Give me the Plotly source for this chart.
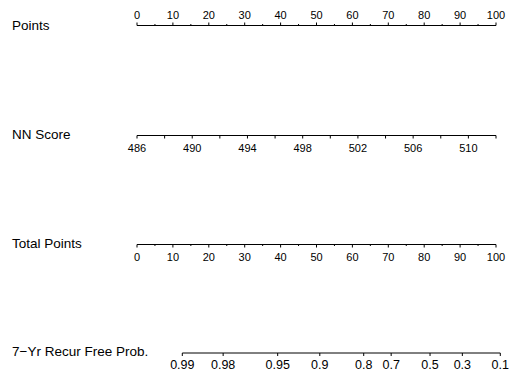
import math
import plotly.graph_objects as go

# ---- data ----
points_major = [0, 10, 20, 30, 40, 50, 60, 70, 80, 90, 100]
points_minor = [5, 15, 25, 35, 45, 55, 65, 75, 85, 95]
nn_ticks = [486, 488, 490, 492, 494, 496, 498, 500, 502, 504, 506, 508, 510, 512]
nn_labels = [486, 490, 494, 498, 502, 506, 510]
total_major = [0, 10, 20, 30, 40, 50, 60, 70, 80, 90, 100]
total_minor = [5, 15, 25, 35, 45, 55, 65, 75, 85, 95]
prob_ticks = [0.99, 0.98, 0.95, 0.9, 0.8, 0.7, 0.5, 0.3, 0.1]
prob_labels = ["0.99", "0.98", "0.95", "0.9", "0.8", "0.7", "0.5", "0.3", "0.1"]
row_names = ["Points", "NN Score", "Total Points", "7\u2212Yr Recur Free Prob."]

# nomogram scales (to the common points axis)
NN_MIN, NN_MAX = 486, 512
def nn_to_pts(v):
    return (v - NN_MIN) / (NN_MAX - NN_MIN) * 100.0

CLL_A, CLL_B = 87.6, 16.3
def prob_to_pts(p):
    return CLL_A + CLL_B * math.log(-math.log(p))

FONT = "Liberation Sans, Arial, Helvetica, sans-serif"
fig = go.Figure()

def add_segments(xs, y0, y1):
    X, Y = [], []
    for x in xs:
        X += [x, x, None]
        Y += [y0, y1, None]
    fig.add_trace(go.Scatter(x=X, y=Y, mode="lines", line=dict(color="black", width=1),
                             hoverinfo="skip", showlegend=False))

def add_line(x0, x1, y):
    fig.add_trace(go.Scatter(x=[x0, x1], y=[y, y], mode="lines",
                             line=dict(color="black", width=1), hoverinfo="skip", showlegend=False))

def add_text(xs, y, texts, size=11):
    fig.add_trace(go.Scatter(x=xs, y=[y] * len(xs), mode="text", text=texts,
                             textposition="middle center", cliponaxis=False,
                             textfont=dict(family=FONT, size=size, color="black"),
                             hoverinfo="skip", showlegend=False))

# Points row
yP = 25.5
add_line(points_major[0], points_major[-1], yP)
add_segments(points_major, yP, yP - 3)
add_segments(points_minor, yP, yP - 1.5)
add_text(points_major, 16, [str(v) for v in points_major])

# NN Score row
yN = 135.5
nn_x = [nn_to_pts(v) for v in nn_ticks]
add_line(nn_x[0], nn_x[-1], yN)
add_segments(nn_x, yN, yN + 3)
add_text([nn_to_pts(v) for v in nn_labels], 149, [str(v) for v in nn_labels])

# Total Points row
yT = 244.5
add_line(total_major[0], total_major[-1], yT)
add_segments(total_major, yT, yT + 3)
add_segments(total_minor, yT, yT + 1.5)
add_text(total_major, 258, [str(v) for v in total_major])

# Probability row
yR = 353
pr_x = [prob_to_pts(p) for p in prob_ticks]
add_line(min(pr_x), max(pr_x), yR)
add_segments(pr_x, yR, yR + 3)
add_text(pr_x, 365.5, prob_labels, size=12.5)

# Row names
PX_PER_PT = 3.59
X0_PX = 137
def px_to_x(px):
    return (px - X0_PX) / PX_PER_PT

name_y = [27, 136, 245, 353]
for name, y in zip(row_names, name_y):
    fig.add_trace(go.Scatter(x=[px_to_x(12)], y=[y], mode="text", text=[name],
                             textposition="middle right", cliponaxis=False,
                             textfont=dict(family=FONT, size=13.5, color="black"),
                             hoverinfo="skip", showlegend=False))

fig.update_layout(
    width=509, height=371,
    margin=dict(l=0, r=0, t=0, b=0),
    paper_bgcolor="white", plot_bgcolor="white",
    xaxis=dict(range=[px_to_x(0), px_to_x(509)], visible=False, fixedrange=True),
    yaxis=dict(range=[371, 0], visible=False, fixedrange=True),
    showlegend=False,
)

fig.write_html(
    "out.html",
    config={"displayModeBar": False},
    post_script="document.body.style.margin='0';document.body.style.padding='0';document.body.style.overflow='hidden';",
)
